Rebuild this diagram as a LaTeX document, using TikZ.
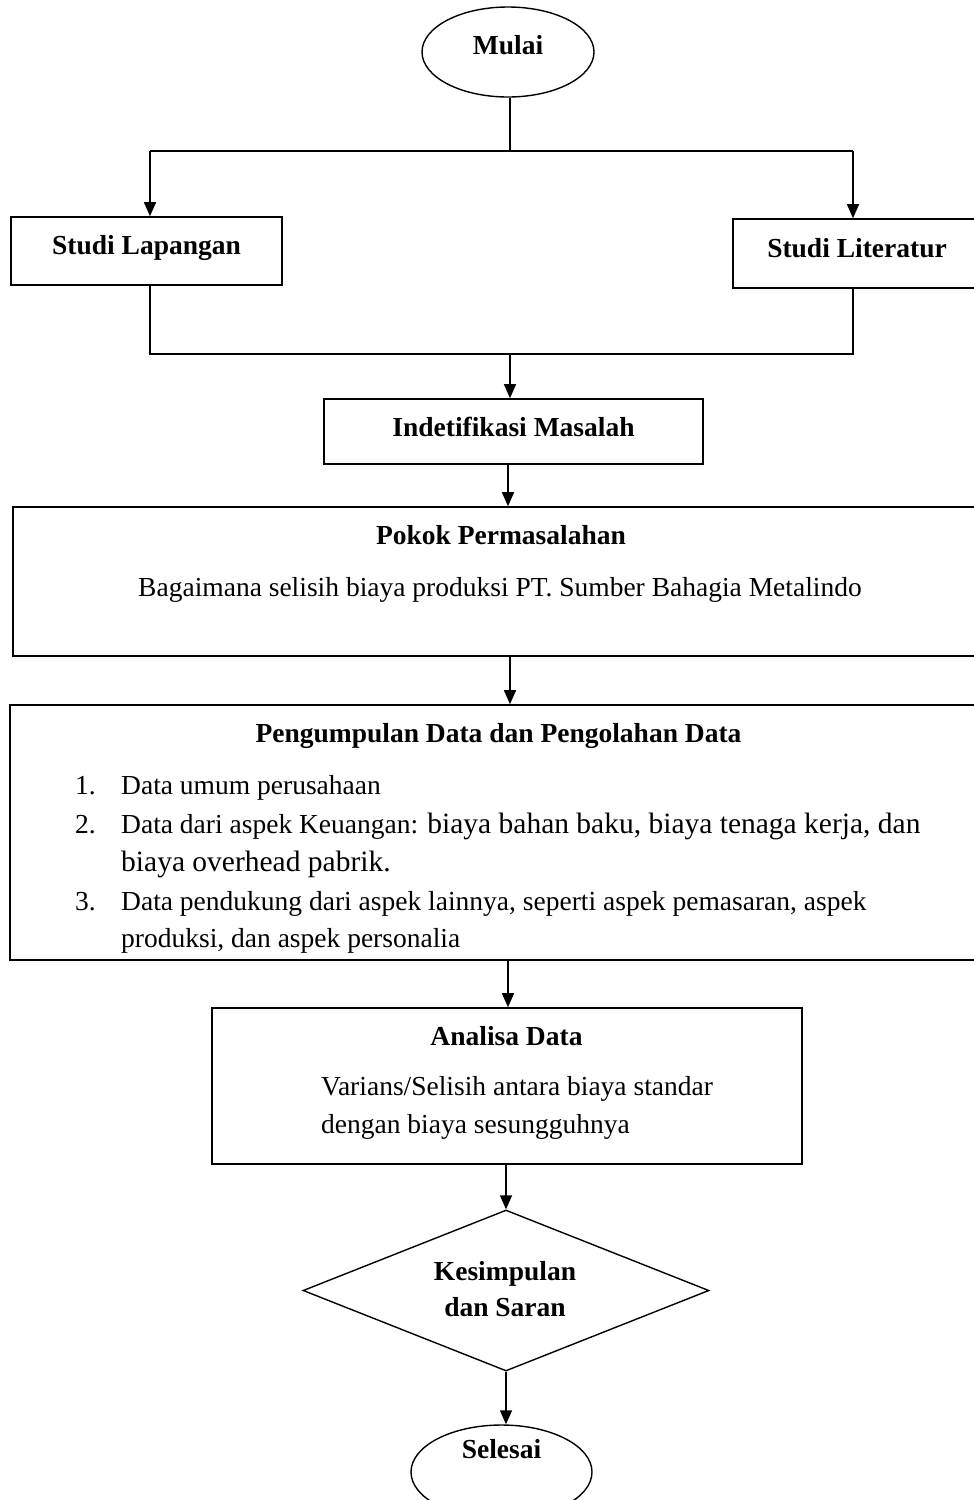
\documentclass[tikz,border=0pt]{standalone}
\usepackage{fontspec}
\setmainfont{Liberation Serif}
\usetikzlibrary{shapes.geometric,arrows.meta}
\begin{document}
\begin{tikzpicture}[x=1pt,y=-1pt,
  every node/.style={font=\fontsize{27.5}{38}\selectfont},
  boxnode/.style={draw,line width=1.6pt,rectangle,inner sep=0pt},
  termnode/.style={draw,line width=1.4pt,ellipse,inner sep=0pt},
  decnode/.style={draw,line width=1.4pt,diamond,inner sep=0pt},
  ttl/.style={font=\fontsize{27.5}{38}\selectfont\bfseries,anchor=mid,yshift=-7pt},
  txt/.style={anchor=mid west,inner sep=0pt,yshift=-7pt},
  ln/.style={line width=1.4pt},
  arr/.style={line width=1.4pt,-{Triangle[length=14pt,width=12pt]}}]
\useasboundingbox (0,0) rectangle (974,1500);
\clip (0,0) rectangle (974,1500);
% shapes
\node[termnode,minimum width=172pt,minimum height=90pt] (mulai) at (508,52) {};
\node[ttl] (tmulai) at (508,45) {Mulai};
\node[boxnode,minimum width=271pt,minimum height=68pt] (lap) at (146.5,251) {};
\node[ttl] (tlap) at (146.5,245) {Studi Lapangan};
\node[boxnode,minimum width=248pt,minimum height=69pt] (lit) at (857,253.5) {};
\node[ttl] (tlit) at (857,248) {Studi Literatur};
\node[boxnode,minimum width=379pt,minimum height=65pt] (ide) at (513.5,431.5) {};
\node[ttl] (tide) at (513.5,427) {Indetifikasi Masalah};
\node[boxnode,minimum width=974pt,minimum height=149pt] (pokok) at (500,581.5) {};
\node[ttl] (tpokok) at (501,535) {Pokok Permasalahan};
\node[anchor=mid,yshift=-7pt] (bpokok) at (500,587) {Bagaimana selisih biaya produksi PT. Sumber Bahagia Metalindo};
\node[boxnode,minimum width=977pt,minimum height=255pt] (peng) at (498.5,832.5) {};
\node[ttl] (tpeng) at (498.5,733) {Pengumpulan Data dan Pengolahan Data};
\node[txt] (n1num) at (75,785) {1.};
\node[txt] (n1) at (121,785) {Data umum perusahaan};
\node[txt] (n2num) at (75,824) {2.};
\node[txt] (n2a) at (121,824) {Data dari aspek Keuangan: {\fontsize{29.5}{38}\selectfont biaya bahan baku, biaya tenaga kerja, dan}};
\node[txt,font=\fontsize{29.5}{38}\selectfont] (n2b) at (121,862) {biaya overhead pabrik.};
\node[txt] (n3num) at (75,901) {3.};
\node[txt] (n3a) at (121,901) {Data pendukung dari aspek lainnya, seperti aspek pemasaran, aspek};
\node[txt] (n3b) at (121,938) {produksi, dan aspek personalia};
\node[boxnode,minimum width=590pt,minimum height=156pt] (ana) at (507,1086) {};
\node[ttl] (tana) at (506.5,1036) {Analisa Data};
\node[txt] (a1) at (321,1086) {Varians/Selisih antara biaya standar};
\node[txt] (a2) at (321,1124) {dengan biaya sesungguhnya};
\node[decnode,minimum width=406pt,minimum height=161pt] (kes) at (506,1290.5) {};
\node[ttl] (tkes1) at (505,1271) {Kesimpulan};
\node[ttl] (tkes2) at (505,1307) {dan Saran};
\node[termnode,minimum width=181pt,minimum height=94pt] (sel) at (501.5,1472) {};
\node[ttl] (tsel) at (501.5,1449) {Selesai};
% junction coordinates
\coordinate (j1) at (510,151);
\coordinate (j1l) at (150,151);
\coordinate (j1r) at (853,151);
\coordinate (j2) at (510,354);
\coordinate (j2l) at (150,354);
\coordinate (j2r) at (853,354);
\coordinate (c3) at (510,0);
\coordinate (c4) at (508,0);
\coordinate (c5) at (508,0);
\coordinate (c6) at (506,0);
% connectors
\draw[ln] (j1 |- mulai.south) -- (j1);
\draw[ln] (j1l) -- (j1r);
\draw[arr] (j1l) -- (j1l |- lap.north);
\draw[arr] (j1r) -- (j1r |- lit.north);
\draw[ln] (j2l |- lap.south) -- (j2l) -- (j2r) -- (j2r |- lit.south);
\draw[arr] (j2) -- (j2 |- ide.north);
\draw[arr] (c4 |- ide.south) -- (c4 |- pokok.north);
\draw[arr] (c3 |- pokok.south) -- (c3 |- peng.north);
\draw[arr] (c5 |- peng.south) -- (c5 |- ana.north);
\draw[arr] (c6 |- ana.south) -- (kes.north);
\draw[arr] (kes.south) -- (kes.south |- sel.north);
\end{tikzpicture}
\end{document}
